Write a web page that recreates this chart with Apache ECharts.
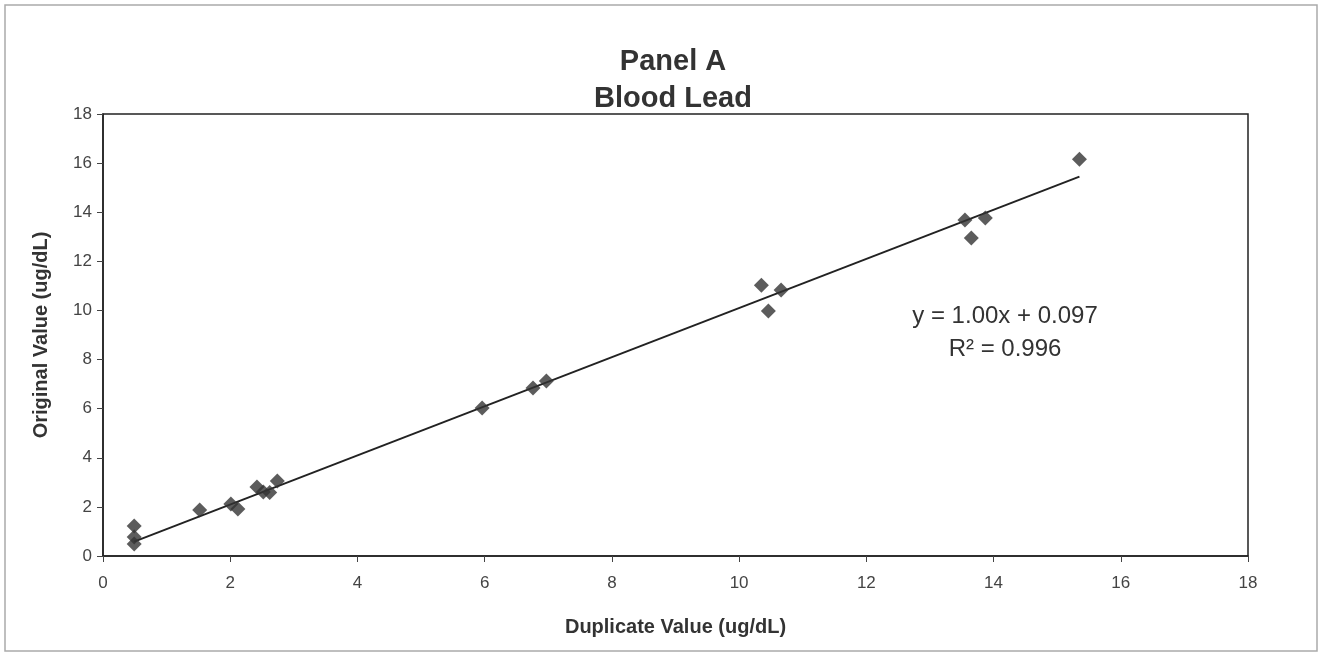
<!DOCTYPE html>
<html><head><meta charset="utf-8">
<script src="https://cdn.jsdelivr.net/npm/echarts@6/dist/echarts.min.js"></script>
<style>html,body{margin:0;padding:0;background:#fff}#c{width:1323px;height:655px}</style>
</head><body><div id="c"></div>
<script>
var duplicateValues = [0.49,0.49,0.49,1.52,2.01,2.12,2.42,2.52,2.62,2.74,5.96,6.76,6.97,10.35,10.46,10.66,13.55,13.65,13.87,15.35];
var originalValues  = [1.22,0.77,0.49,1.87,2.12,1.91,2.81,2.61,2.59,3.05,6.03,6.84,7.13,11.03,9.98,10.83,13.68,12.95,13.76,16.16];
var trendSlope = 1.00, trendIntercept = 0.097;
var trendRange = [0.49, 15.35];
var axisTicks = [0,2,4,6,8,10,12,14,16,18];

var pts = duplicateValues.map(function(x,i){return [x, originalValues[i]];});
var trend = trendRange.map(function(x){return [x, trendSlope*x+trendIntercept];});
var font = 'Liberation Sans, Arial, sans-serif';
var chart = echarts.init(document.getElementById('c'));
chart.setOption({
  animation:false,
  backgroundColor:'#fff',
  title:{text:'Panel A\nBlood Lead', left:668, top:38, textAlign:'center',
    textStyle:{fontFamily:font, fontSize:29, fontWeight:'bold', color:'#333', lineHeight:37}},
  grid:{left:103, right:75, top:114, bottom:99, show:true, borderColor:'#222', borderWidth:1.5},
  xAxis:{type:'value', min:axisTicks[0], max:axisTicks[axisTicks.length-1], interval:2,
    name:'Duplicate Value (ug/dL)', nameLocation:'middle', nameGap:61,
    nameTextStyle:{fontFamily:font, fontSize:20, fontWeight:'bold', color:'#333'},
    axisLine:{lineStyle:{color:'#222', width:1.5}},
    axisTick:{inside:false, length:6, lineStyle:{color:'#444'}},
    axisLabel:{fontFamily:font, fontSize:17, color:'#444', margin:19},
    splitLine:{show:false}},
  yAxis:{type:'value', min:axisTicks[0], max:axisTicks[axisTicks.length-1], interval:2,
    name:'Original Value (ug/dL)', nameLocation:'middle', nameGap:52,
    nameTextStyle:{fontFamily:font, fontSize:20, fontWeight:'bold', color:'#333'},
    axisLine:{lineStyle:{color:'#222', width:1.5}},
    axisTick:{inside:false, length:6, lineStyle:{color:'#444'}},
    axisLabel:{fontFamily:font, fontSize:17, color:'#444', margin:11},
    splitLine:{show:false}},
  graphic:[
    {type:'rect', shape:{x:5, y:5, width:1312, height:646}, style:{fill:'none', stroke:'#aaa', lineWidth:1.5}, z:-1},
    {type:'text', x:1005, y:316, style:{text:'y = 1.00x + 0.097', font:'24px Liberation Sans, Arial, sans-serif', fill:'#333', textAlign:'center', textVerticalAlign:'middle'}},
    {type:'text', x:1005, y:349, style:{text:'R² = 0.996', font:'24px Liberation Sans, Arial, sans-serif', fill:'#333', textAlign:'center', textVerticalAlign:'middle'}}
  ],
  series:[
    {type:'line', data:trend, symbol:'none', lineStyle:{color:'#222', width:2}, z:2},
    {type:'scatter', data:pts, symbol:'diamond', symbolSize:15, itemStyle:{color:'#333'}, z:3}
  ]
});
</script></body></html>
